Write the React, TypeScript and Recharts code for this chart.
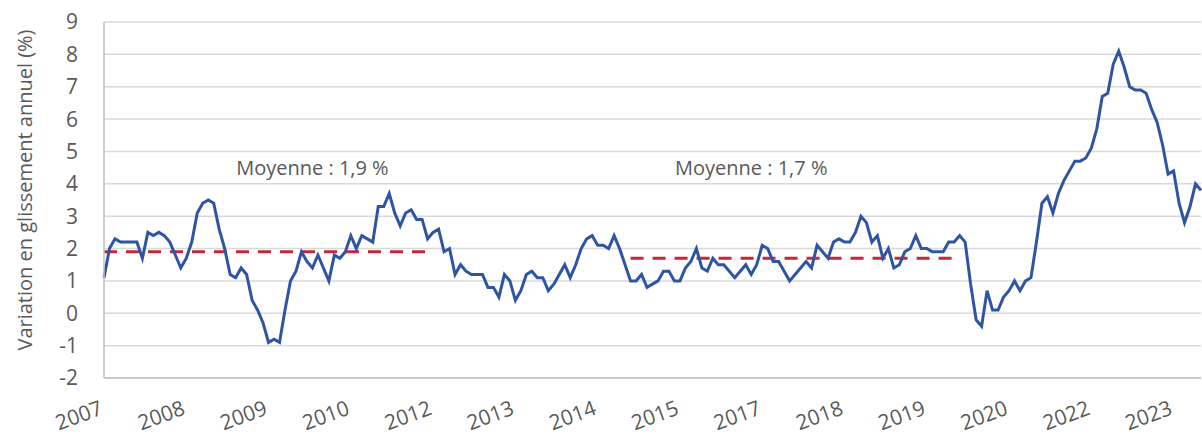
import React from 'react';
import { LineChart, Line, XAxis, YAxis, CartesianGrid, ReferenceDot } from 'recharts';

const startYear = 2007;
const yTicks = [-2, -1, 0, 1, 2, 3, 4, 5, 6, 7, 8, 9];

// Year-over-year change, monthly, Jan 2007 - Sep 2023
const cpi2007 = [1.1, 2.0, 2.3, 2.2, 2.2, 2.2, 2.2, 1.7, 2.5, 2.4, 2.5, 2.4];
const cpi2008 = [2.2, 1.8, 1.4, 1.7, 2.2, 3.1, 3.4, 3.5, 3.4, 2.6, 2.0, 1.2];
const cpi2009 = [1.1, 1.4, 1.2, 0.4, 0.1, -0.3, -0.9, -0.8, -0.9, 0.1, 1.0, 1.3];
const cpi2010 = [1.9, 1.6, 1.4, 1.8, 1.4, 1.0, 1.8, 1.7, 1.9, 2.4, 2.0, 2.4];
const cpi2011 = [2.3, 2.2, 3.3, 3.3, 3.7, 3.1, 2.7, 3.1, 3.2, 2.9, 2.9, 2.3];
const cpi2012 = [2.5, 2.6, 1.9, 2.0, 1.2, 1.5, 1.3, 1.2, 1.2, 1.2, 0.8, 0.8];
const cpi2013 = [0.5, 1.2, 1.0, 0.4, 0.7, 1.2, 1.3, 1.1, 1.1, 0.7, 0.9, 1.2];
const cpi2014 = [1.5, 1.1, 1.5, 2.0, 2.3, 2.4, 2.1, 2.1, 2.0, 2.4, 2.0, 1.5];
const cpi2015 = [1.0, 1.0, 1.2, 0.8, 0.9, 1.0, 1.3, 1.3, 1.0, 1.0, 1.4, 1.6];
const cpi2016 = [2.0, 1.4, 1.3, 1.7, 1.5, 1.5, 1.3, 1.1, 1.3, 1.5, 1.2, 1.5];
const cpi2017 = [2.1, 2.0, 1.6, 1.6, 1.3, 1.0, 1.2, 1.4, 1.6, 1.4, 2.1, 1.9];
const cpi2018 = [1.7, 2.2, 2.3, 2.2, 2.2, 2.5, 3.0, 2.8, 2.2, 2.4, 1.7, 2.0];
const cpi2019 = [1.4, 1.5, 1.9, 2.0, 2.4, 2.0, 2.0, 1.9, 1.9, 1.9, 2.2, 2.2];
const cpi2020 = [2.4, 2.2, 0.9, -0.2, -0.4, 0.7, 0.1, 0.1, 0.5, 0.7, 1.0, 0.7];
const cpi2021 = [1.0, 1.1, 2.2, 3.4, 3.6, 3.1, 3.7, 4.1, 4.4, 4.7, 4.7, 4.8];
const cpi2022 = [5.1, 5.7, 6.7, 6.8, 7.7, 8.1, 7.6, 7.0, 6.9, 6.9, 6.8, 6.3];
const cpi2023 = [5.9, 5.2, 4.3, 4.4, 3.4, 2.8, 3.3, 4.0, 3.8];

const cpi = [
  ...cpi2007, ...cpi2008, ...cpi2009, ...cpi2010, ...cpi2011, ...cpi2012,
  ...cpi2013, ...cpi2014, ...cpi2015, ...cpi2016, ...cpi2017, ...cpi2018,
  ...cpi2019, ...cpi2020, ...cpi2021, ...cpi2022, ...cpi2023,
];

// Period averages
const avg1 = { from: '2007-01', to: '2011-12', value: 1.9, label: 'Moyenne : 1,9 %', at: '2010-03' };
const avg2 = { from: '2015-01', to: '2019-12', value: 1.7, label: 'Moyenne : 1,7 %', at: '2016-11' };
const annotationY = 4.5;

const months = cpi.map((_, i) => {
  const y = startYear + Math.floor(i / 12);
  const m = (i % 12) + 1;
  return `${y}-${m < 10 ? '0' + m : m}`;
});

const data = months.map((month, i) => ({
  month,
  cpi: cpi[i],
  avg1: month >= avg1.from && month <= avg1.to ? avg1.value : null,
  avg2: month >= avg2.from && month <= avg2.to ? avg2.value : null,
}));

const FONT = "'Open Sans', 'Noto Sans', sans-serif";
const TEXT = '#595959';

const XTick = (props: any) => {
  const { x, y, payload } = props;
  return (
    <g transform={`translate(${x},${y + 28}) rotate(-20)`}>
      <text x={0} y={0} textAnchor="end" fill={TEXT} fontSize={21} fontFamily={FONT}>
        {String(payload.value).slice(0, 4)}
      </text>
    </g>
  );
};

const YTitle = () => (
  <text
    x={24}
    y={190}
    transform="rotate(-90, 24, 190)"
    textAnchor="middle"
    dominantBaseline="central"
    fill={TEXT}
    fontSize={20}
    fontFamily={FONT}
  >
    Variation en glissement annuel (%)
  </text>
);

export default function App() {
  return (
    <div style={{ position: 'absolute', left: 0, top: 0, background: '#fff' }}>
      <LineChart
        width={1202}
        height={438}
        data={data}
        margin={{ top: 22, right: 1, left: 0, bottom: 0 }}
      >
        <CartesianGrid vertical={false} stroke="#d9d9d9" strokeWidth={1.5} />
        <XAxis
          dataKey="month"
          interval={14}
          tickLine={false}
          axisLine={{ stroke: '#bfbfbf', strokeWidth: 1.5 }}
          height={60}
          tick={<XTick />}
        />
        <YAxis
          domain={[-2, 9]}
          ticks={yTicks}
          width={104}
          tickLine={false}
          tickSize={0}
          tickMargin={26}
          axisLine={{ stroke: '#bfbfbf', strokeWidth: 1.5 }}
          tick={{ fill: TEXT, fontSize: 21, fontFamily: FONT }}
          interval={0}
          label={{ content: () => <YTitle /> }}
        />
        <Line
          type="linear"
          dataKey="avg1"
          stroke="#c4283a"
          strokeWidth={3}
          strokeDasharray="13 9"
          dot={false}
          isAnimationActive={false}
          connectNulls={false}
        />
        <Line
          type="linear"
          dataKey="avg2"
          stroke="#c4283a"
          strokeWidth={3}
          strokeDasharray="13 9"
          dot={false}
          isAnimationActive={false}
          connectNulls={false}
        />
        <Line
          type="linear"
          dataKey="cpi"
          stroke="#2e55a4"
          strokeWidth={3}
          dot={false}
          isAnimationActive={false}
        />
        <ReferenceDot
          x={avg1.at}
          y={annotationY}
          r={0}
          fill="none"
          stroke="none"
          label={{ value: avg1.label, position: 'center', fill: TEXT, fontSize: 20, fontFamily: FONT }}
        />
        <ReferenceDot
          x={avg2.at}
          y={annotationY}
          r={0}
          fill="none"
          stroke="none"
          label={{ value: avg2.label, position: 'center', fill: TEXT, fontSize: 20, fontFamily: FONT }}
        />
      </LineChart>
    </div>
  );
}
